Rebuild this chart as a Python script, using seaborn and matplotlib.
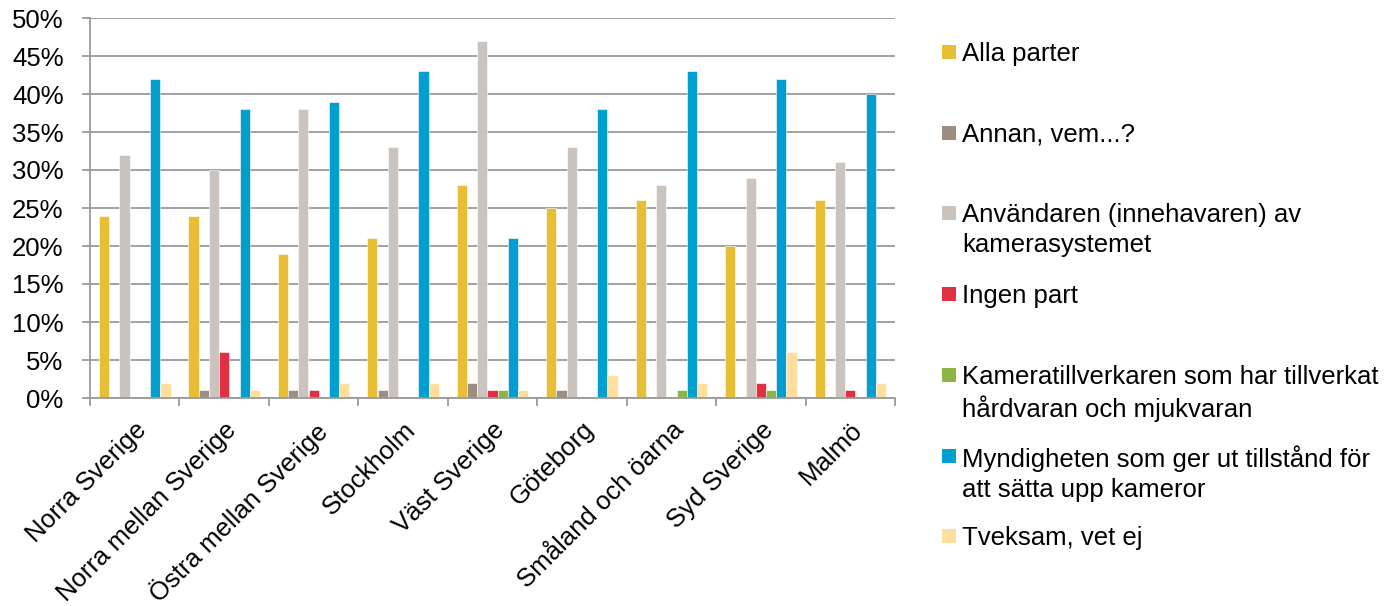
import numpy as np
import pandas as pd
import seaborn as sns
import matplotlib.pyplot as plt
from matplotlib.patches import Rectangle
from matplotlib.ticker import PercentFormatter

# regions on the x axis
regions = ["Norra Sverige", "Norra mellan Sverige", "Östra mellan Sverige",
           "Stockholm", "Väst Sverige", "Göteborg", "Småland och öarna",
           "Syd Sverige", "Malmö"]

# answer shares in percent, one list per answer option
alla_parter = [24, 24, 19, 21, 28, 25, 26, 20, 26]
annan = [0, 1, 1, 1, 2, 1, 0, 0, 0]
anvandaren = [32, 30, 38, 33, 47, 33, 28, 29, 31]
ingen_part = [0, 6, 1, 0, 1, 0, 0, 2, 1]
kameratillverkaren = [0, 0, 0, 0, 1, 0, 1, 1, 0]
myndigheten = [42, 38, 39, 43, 21, 38, 43, 42, 40]
tveksam = [2, 1, 2, 2, 1, 3, 2, 6, 2]

series_names = ["Alla parter",
                "Annan, vem...?",
                "Användaren (innehavaren) av\nkamerasystemet",
                "Ingen part",
                "Kameratillverkaren som har tillverkat\nhårdvaran och mjukvaran",
                "Myndigheten som ger ut tillstånd för\natt sätta upp kameror",
                "Tveksam, vet ej"]
series_values = [alla_parter, annan, anvandaren, ingen_part,
                 kameratillverkaren, myndigheten, tveksam]
colors = ["#E8BE36", "#9C8E83", "#CBC4BE", "#E03042",
          "#8DB543", "#009FD0", "#FFDE9E"]

rows = []
for name, vals in zip(series_names, series_values):
    for reg, v in zip(regions, vals):
        rows.append({"region": reg, "svar": name, "andel": v})
df = pd.DataFrame(rows)

sns.set_style("white")
plt.rcParams["font.family"] = ["Liberation Sans", "DejaVu Sans"]
plt.rcParams["text.color"] = "black"

W, H = 1395, 606
fig, ax = plt.subplots(figsize=(W / 100, H / 100), dpi=100)
fig.subplots_adjust(left=90 / W, right=895 / W, top=1 - 18 / H, bottom=1 - 398 / H)

sns.barplot(data=df, x="region", y="andel", hue="svar", order=regions,
            hue_order=series_names, palette=colors, saturation=1, width=0.8,
            edgecolor="white", linewidth=0.4, legend=False, ax=ax)

ax.set_ylim(0, 50)
ax.set_xlim(-0.5, len(regions) - 0.5)
ax.set_yticks(np.arange(0, 51, 5))
ax.yaxis.set_major_formatter(PercentFormatter(decimals=0))
ax.yaxis.grid(True, color="#9a9a9a", linewidth=1.3)
ax.set_axisbelow(True)
ax.set_xlabel("")
ax.set_ylabel("")

for s in ["top", "right"]:
    ax.spines[s].set_visible(False)
for s in ["left", "bottom"]:
    ax.spines[s].set_color("#9a9a9a")
    ax.spines[s].set_linewidth(1.3)

# category labels at centers, tick marks at boundaries
ax.set_xticks(np.arange(len(regions)))
ax.set_xticklabels(regions, rotation=45, ha="right", rotation_mode="anchor",
                   fontsize=18.5, color="black")
ax.set_xticks(np.arange(len(regions) + 1) - 0.5, minor=True)
ax.tick_params(axis="x", which="major", length=0, pad=14)
ax.tick_params(axis="x", which="minor", length=6, width=1.3,
               color="#9a9a9a", direction="out", bottom=True)
ax.tick_params(axis="y", length=6, width=1.3, color="#9a9a9a",
               direction="out", left=True, labelsize=18.5, labelcolor="black",
               pad=13)

# legend in fixed slots, text top-aligned like the original
for i, (name, col) in enumerate(zip(series_names, colors)):
    yc = 52 + 80.7 * i
    fig.patches.append(Rectangle((942 / W, 1 - (yc + 7) / H), 14 / W, 14 / H,
                                 transform=fig.transFigure, facecolor=col,
                                 edgecolor="none"))
    fig.text(962 / W, 1 - (yc - 10) / H, name, fontsize=18.5, va="top",
             ha="left", linespacing=1.32)

fig.savefig("out.png", dpi=100)
